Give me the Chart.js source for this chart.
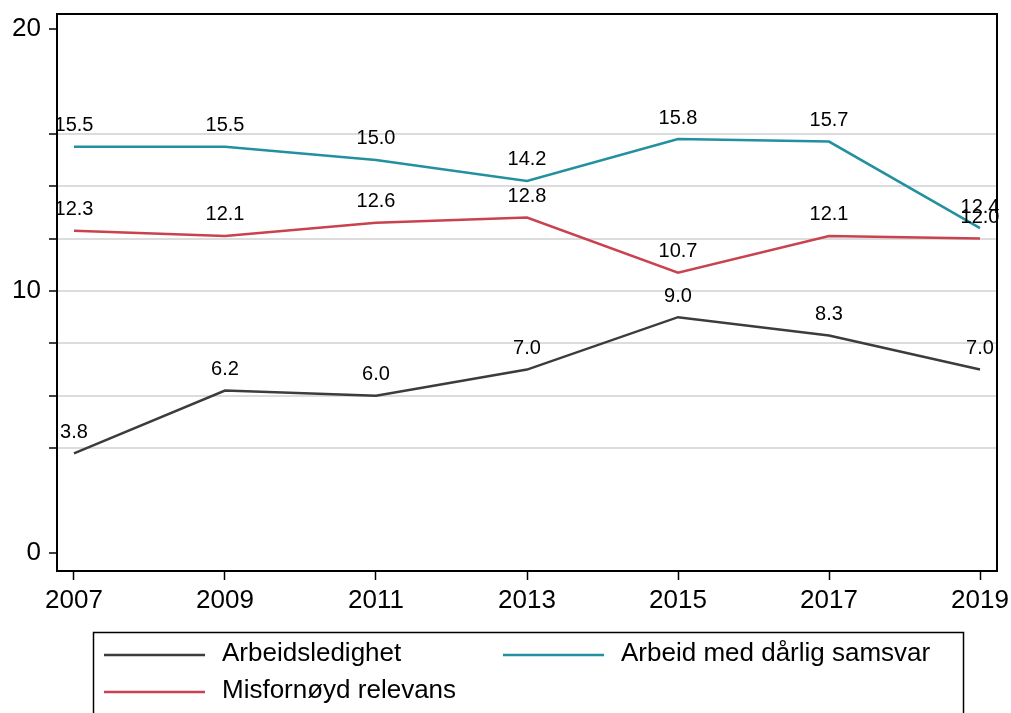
<!DOCTYPE html>
<html>
<head>
<meta charset="utf-8">
<script src="https://cdn.jsdelivr.net/npm/chart.js@4.4.1/dist/chart.umd.min.js"></script>
<style>
  html, body { margin: 0; padding: 0; background: #fff; }
  #wrap { width: 1011px; height: 713px; }
</style>
</head>
<body>
<div id="wrap"><canvas id="chart" width="1011" height="713"></canvas></div>
<script>
// values
const years = [2007, 2009, 2011, 2013, 2015, 2017, 2019];
const arbeidsledighet = [3.8, 6.2, 6.0, 7.0, 9.0, 8.3, 7.0];
const darligSamsvar = [15.5, 15.5, 15.0, 14.2, 15.8, 15.7, 12.4];
const misfornoyd = [12.3, 12.1, 12.6, 12.8, 10.7, 12.1, 12.0];
const yTicks = [0, 4, 6, 8, 10, 12, 14, 16, 20];
const yLabels = [0, 10, 20];
const yGrid = [4, 6, 8, 10, 12, 14, 16];

const FONT = 'Liberation Sans, Arial, sans-serif';

const toPoints = vals => vals.map((v, i) => ({ x: years[i], y: v }));

// value labels above each point
const pointLabels = {
  id: 'pointLabels',
  afterDatasetsDraw(chart) {
    const ctx = chart.ctx;
    ctx.save();
    ctx.font = '20px ' + FONT;
    ctx.fillStyle = '#000';
    ctx.textAlign = 'center';
    ctx.textBaseline = 'middle';
    chart.data.datasets.forEach((ds, i) => {
      chart.getDatasetMeta(i).data.forEach((pt, j) => {
        ctx.fillText(ds.data[j].y.toFixed(1), pt.x, pt.y - 21);
      });
    });
    ctx.restore();
  }
};

// frame round plot area + boxed legend below
const frameLegend = {
  id: 'frameLegend',
  afterDraw(chart) {
    const ctx = chart.ctx;
    const a = chart.chartArea;
    ctx.save();
    ctx.strokeStyle = '#000';
    ctx.lineWidth = 2;
    ctx.strokeRect(a.left, a.top, a.right - a.left, a.bottom - a.top);

    ctx.lineWidth = 1.5;
    ctx.strokeRect(93.5, 632.5, 870, 100);

    const slots = [
      { x: 104, y: 655 },
      { x: 503, y: 655 },
      { x: 104, y: 692 }
    ];
    const order = [0, 2, 1];
    ctx.font = '26px ' + FONT;
    ctx.textBaseline = 'middle';
    ctx.textAlign = 'left';
    order.forEach((dsIdx, k) => {
      const ds = chart.data.datasets[dsIdx];
      const s = slots[k];
      ctx.strokeStyle = ds.borderColor;
      ctx.lineWidth = 2.5;
      ctx.beginPath();
      ctx.moveTo(s.x, s.y);
      ctx.lineTo(s.x + 101, s.y);
      ctx.stroke();
      ctx.fillStyle = '#000';
      ctx.fillText(ds.label, s.x + 118, s.y - 1);
    });
    ctx.restore();
  }
};

new Chart(document.getElementById('chart'), {
  type: 'line',
  data: {
    datasets: [
      { label: 'Arbeidsledighet', data: toPoints(arbeidsledighet), borderColor: '#3c3c3c' },
      { label: 'Misfornøyd relevans', data: toPoints(misfornoyd), borderColor: '#c9424f' },
      { label: 'Arbeid med dårlig samsvar', data: toPoints(darligSamsvar), borderColor: '#23909f' }
    ]
  },
  options: {
    responsive: false,
    animation: false,
    layout: { padding: { top: 14, right: 14, left: 0, bottom: 0 } },
    elements: {
      line: { borderWidth: 2.5, tension: 0 },
      point: { radius: 0 }
    },
    plugins: { legend: { display: false }, tooltip: { enabled: false } },
    scales: {
      x: {
        type: 'linear',
        min: 2006.775,
        max: 2019.225,
        afterBuildTicks: s => { s.ticks = years.map(v => ({ value: v })); },
        afterFit: s => { s.height = 142; s.paddingLeft = 0; s.paddingRight = 0; },
        ticks: {
          callback: v => String(v),
          color: '#000',
          font: { size: 26, family: FONT },
          padding: 5,
          maxRotation: 0
        },
        grid: { drawOnChartArea: false, tickColor: '#000', tickLength: 9, tickWidth: 1.5 },
        border: { color: '#000', width: 2 }
      },
      y: {
        min: -0.687,
        max: 20.57,
        afterBuildTicks: s => { s.ticks = yTicks.map(v => ({ value: v })); },
        afterFit: s => { s.width = 57; s.paddingTop = 0; s.paddingBottom = 0; },
        ticks: {
          callback: v => yLabels.includes(v) ? String(v) : '',
          color: '#000',
          font: { size: 26, family: FONT },
          padding: 8
        },
        grid: {
          color: c => (c.tick && yGrid.includes(c.tick.value)) ? '#dcdcdc' : 'rgba(0,0,0,0)',
          lineWidth: 2,
          tickColor: '#000',
          tickLength: 8,
          tickWidth: 1.5
        },
        border: { color: '#000', width: 2 }
      }
    }
  },
  plugins: [pointLabels, frameLegend]
});
</script>
</body>
</html>
